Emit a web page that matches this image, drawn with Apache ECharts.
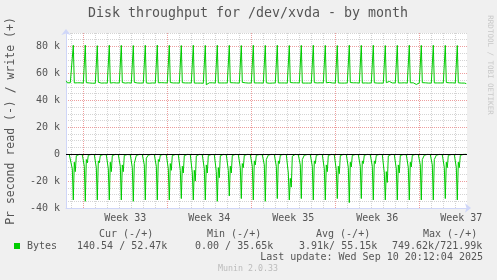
<!DOCTYPE html>
<html>
<head>
<meta charset="utf-8">
<script src="https://cdn.jsdelivr.net/npm/echarts@6/dist/echarts.min.js"></script>
<style>
html, body { margin: 0; padding: 0; background: #f0f0f0; }
#chart { width: 497px; height: 280px; }
</style>
</head>
<body>
<div id="chart"></div>
<script>
// time axis in hours, 0 = first midnight shown, one sample every 2h
const startHour = -10
const stepHours = 2

// write bytes/s (k), one line per day
const writeK = [
  54.5, 53.0, 52.4, 52.8, 53.0,
  53.0, 52.8, 80.9, 52.9, 52.7, 52.9, 53.0, 52.6, 52.8, 53.0, 52.9, 52.7,
  52.8, 52.9, 81.0, 53.1, 52.8, 52.6, 52.9, 53.0, 52.8, 52.7, 52.9, 52.8,
  52.7, 53.0, 80.6, 53.4, 52.9, 53.6, 52.8, 53.3, 52.7, 52.9, 53.0, 52.6,
  52.8, 52.9, 80.9, 52.8, 52.6, 52.9, 53.1, 52.8, 52.7, 52.9, 52.8, 52.6,
  52.9, 53.0, 80.8, 53.2, 52.7, 52.9, 52.8, 52.6, 52.9, 53.0, 52.8, 52.7,
  52.8, 52.9, 80.7, 53.3, 53.1, 52.8, 52.9, 53.0, 52.4, 52.8, 52.9, 52.7,
  52.9, 52.8, 80.9, 52.9, 52.8, 53.0, 52.7, 52.9, 52.8, 52.9, 53.0, 52.8,
  52.8, 53.0, 81.0, 53.0, 52.9, 52.8, 53.1, 52.9, 52.8, 53.0, 52.9, 52.8,
  52.9, 52.8, 80.8, 53.2, 54.1, 53.4, 52.9, 53.0, 52.8, 52.9, 53.0, 52.8,
  52.8, 52.9, 80.7, 53.1, 52.9, 52.8, 52.9, 53.0, 52.8, 52.9, 52.8, 52.7,
  52.9, 53.0, 80.9, 52.8, 52.9, 53.0, 52.8, 52.9, 53.0, 52.8, 52.9, 52.8,
  52.7, 52.9, 80.8, 51.6, 52.8, 52.9, 53.0, 52.8, 52.9, 53.0, 52.8, 52.9,
  52.8, 53.0, 80.9, 52.9, 52.8, 53.0, 52.9, 52.8, 53.0, 52.9, 52.8, 52.7,
  52.9, 52.8, 80.8, 53.1, 52.9, 52.8, 53.0, 52.9, 52.8, 52.9, 53.0, 52.8,
  52.8, 52.9, 80.7, 53.3, 52.8, 52.9, 53.0, 53.2, 52.9, 52.8, 52.9, 52.7,
  52.9, 53.0, 80.9, 52.9, 53.0, 52.8, 52.9, 53.0, 52.8, 52.9, 53.0, 52.8,
  52.8, 52.9, 80.8, 53.0, 52.8, 52.9, 52.7, 52.9, 53.0, 52.8, 52.9, 52.8,
  52.9, 52.8, 80.9, 52.9, 53.0, 52.8, 52.9, 52.8, 53.0, 52.9, 52.8, 52.9,
  52.8, 53.0, 80.7, 53.2, 52.9, 52.8, 53.0, 52.9, 52.8, 53.0, 52.9, 52.7,
  52.9, 52.8, 80.8, 52.8, 52.9, 53.0, 52.8, 52.9, 53.0, 52.8, 52.9, 52.8,
  52.8, 52.9, 80.9, 53.1, 52.8, 53.0, 52.9, 52.8, 52.9, 53.0, 52.8, 52.9,
  52.9, 53.0, 80.8, 53.0, 52.9, 52.8, 53.3, 52.9, 52.8, 52.9, 53.0, 52.8,
  52.8, 52.9, 80.7, 52.9, 53.0, 52.9, 52.8, 53.0, 52.9, 52.8, 52.9, 52.8,
  52.9, 52.8, 80.9, 53.2, 52.8, 52.9, 53.0, 52.8, 52.9, 53.0, 52.8, 52.7,
  52.8, 53.0, 80.8, 52.8, 52.9, 53.0, 52.9, 52.8, 52.9, 52.8, 53.0, 52.9,
  52.9, 52.8, 80.9, 53.0, 52.8, 52.9, 52.8, 53.0, 52.9, 52.8, 52.9, 52.8,
  52.8, 52.9, 80.7, 53.1, 52.9, 52.8, 54.0, 53.0, 52.8, 52.9, 53.0, 52.8,
  52.9, 53.0, 80.8, 52.9, 52.8, 53.0, 52.9, 52.8, 52.9, 53.0, 52.8, 52.9,
  52.8, 52.9, 80.9, 53.0, 52.9, 52.8, 53.0, 52.9, 54.2, 51.8, 52.9, 52.8,
  52.9, 52.8, 80.8, 53.1, 52.8, 52.9, 53.0, 52.8, 52.9, 52.8, 53.0, 52.9,
  52.8, 53.0, 80.9, 52.9, 53.0, 52.8, 52.9, 53.0, 52.8, 52.9, 52.8, 52.7,
  52.9, 52.8, 80.8, 53.2, 52.9, 52.8, 53.0, 52.9, 52.8, 53.0, 52.9, 52.8,
  52.8, 52.9, 80.7, 53.0, 52.8, 52.9, 52.8, 53.0, 52.9, 52.8, 52.9, 52.4
]

// read bytes/s (k), drawn below zero
const readK = [
  0.2, 0.1, 0.2, 0.3, 0.5,
  0.8, 11, 34, 6, 13, 1.2, 0.4, 0.3, 0.2, 0.3, 0.2, 0.4,
  0.6, 9, 35, 4, 6.5, 0.8, 0.3, 0.2, 0.2, 0.3, 0.2, 0.3,
  0.7, 10, 34, 5, 6.5, 1.0, 0.3, 0.2, 0.3, 0.2, 0.3, 0.4,
  0.8, 11, 34, 6, 13, 1.1, 0.4, 0.3, 0.2, 0.2, 0.3, 0.3,
  0.7, 9, 34, 8, 13, 0.9, 0.3, 0.2, 0.3, 0.2, 0.2, 0.4,
  0.6, 10, 35, 7, 8, 1.0, 0.4, 0.2, 0.2, 0.3, 0.2, 0.3,
  0.5, 8, 34, 3, 3, 0.7, 0.3, 0.2, 0.2, 0.2, 0.3, 0.3,
  0.7, 9, 34, 4, 5.5, 0.8, 0.3, 0.3, 0.2, 0.2, 0.2, 0.4,
  0.8, 11, 34, 7, 12, 1.0, 0.3, 0.2, 0.3, 0.2, 0.3, 0.3,
  0.7, 12, 33, 9, 14, 1.1, 0.4, 0.2, 0.2, 0.3, 0.2, 0.3,
  0.9, 14, 34, 12, 20, 1.3, 0.4, 0.3, 0.2, 0.2, 0.3, 0.4,
  0.8, 11, 34, 8, 14, 1.0, 0.3, 0.2, 0.3, 0.2, 0.2, 0.3,
  0.9, 13, 35, 10, 17.5, 1.2, 0.4, 0.3, 0.2, 0.3, 0.2, 0.4,
  0.8, 12, 31, 9, 14, 1.0, 0.3, 0.2, 0.2, 0.2, 0.3, 0.3,
  0.7, 10, 33, 7, 10, 0.9, 0.3, 0.3, 0.2, 0.2, 0.2, 0.3,
  0.6, 9, 34, 5, 8, 0.8, 0.3, 0.2, 0.3, 0.2, 0.3, 0.4,
  0.6, 8, 35, 4, 5, 0.7, 0.3, 0.2, 0.2, 0.3, 0.2, 0.3,
  0.7, 9, 33, 5, 7, 0.8, 0.3, 0.2, 0.2, 0.2, 0.3, 0.3,
  0.9, 14, 34, 18, 24.5, 1.5, 0.4, 0.3, 0.2, 0.3, 0.2, 0.4,
  0.6, 8, 33, 4, 4.5, 0.8, 0.3, 0.2, 0.3, 0.2, 0.2, 0.3,
  0.7, 9, 34, 5, 7, 0.9, 0.3, 0.2, 0.2, 0.2, 0.3, 0.3,
  0.8, 11, 34, 8, 13, 1.0, 0.4, 0.3, 0.2, 0.2, 0.2, 0.4,
  0.8, 12, 33, 9, 14.5, 1.1, 0.3, 0.2, 0.2, 0.3, 0.2, 0.3,
  0.7, 10, 36, 6, 9.5, 0.9, 0.3, 0.2, 0.3, 0.2, 0.3, 0.3,
  0.6, 9, 33, 5, 7, 0.8, 0.3, 0.2, 0.2, 0.2, 0.2, 0.4,
  0.7, 9, 34, 5, 7, 0.9, 0.3, 0.3, 0.2, 0.2, 0.3, 0.3,
  0.9, 14, 34, 13, 21, 1.3, 0.4, 0.2, 0.2, 0.3, 0.2, 0.3,
  0.8, 11, 34, 8, 14, 1.0, 0.3, 0.2, 0.3, 0.2, 0.2, 0.4,
  0.7, 10, 34, 6, 9.5, 0.9, 0.3, 0.2, 0.2, 0.2, 0.3, 0.3,
  0.6, 8, 34, 4, 4.5, 0.8, 0.3, 0.2, 0.2, 0.3, 0.2, 0.3,
  0.6, 8, 34, 4, 4.5, 0.8, 0.3, 0.3, 0.2, 0.2, 0.2, 0.4,
  0.7, 10, 33, 6, 10, 0.9, 0.3, 0.2, 0.3, 0.2, 0.3, 0.3,
  0.7, 10, 34, 6, 10, 0.9, 0.3, 0.2, 0.2, 0.2, 0.3, 0.1
]

const weekStarts = [24, 192, 360, 528, 696]
const weekMids = [108, 276, 444, 612, 780]
const weekLabels = ['Week 33', 'Week 34', 'Week 35', 'Week 36', 'Week 37']
const majorY = [-40000, -20000, 0, 20000, 40000, 60000, 80000]

const legendHeaders = ['Cur (-/+)', 'Min (-/+)', 'Avg (-/+)', 'Max (-/+)']
const legendValues = ['140.54 / 52.47k', '0.00 / 35.65k', '3.91k/ 55.15k', '749.62k/721.99k']
const lastUpdate = 'Last update: Wed Sep 10 20:12:04 2025'

const xMin = -10.6
const xMax = 791.4
const yMin = -40000
const yMax = 90000

const MONO = 'DejaVu Sans Mono'
const FONT_COLOR = '#555'
const AXIS_COLOR = '#CFD6F8'
const GRID_COLOR = 'rgba(143,143,143,0.38)'
const MGRID_COLOR = 'rgba(222,79,79,0.55)'

// daily grid at every midnight that is not a week start
const dayLines = []
for (let h = 0; h <= xMax; h += 24) {
  if (weekStarts.indexOf(h) < 0) dayLines.push(h)
}
const minorY = []
for (let v = -35000; v <= yMax; v += 5000) {
  if (majorY.indexOf(v) < 0) minorY.push(v)
}

const writeData = writeK.map((v, i) => [startHour + i * stepHours, v * 1000])
const readData = readK.map((v, i) => [startHour + i * stepHours, -v * 1000])

const chart = echarts.init(document.getElementById('chart'), null, { renderer: 'canvas' })

const dotted = (color) => ({ show: true, lineStyle: { color: color, width: 1, type: [1, 1] } })

chart.setOption({
  backgroundColor: '#f0f0f0',
  animation: false,
  textStyle: { fontFamily: MONO },
  grid: {
    left: 66, top: 33, width: 401, height: 175,
    show: true, backgroundColor: '#ffffff', borderWidth: 0
  },
  xAxis: [
    {
      type: 'value', min: xMin, max: xMax,
      axisLine: {
        show: true, onZero: false,
        symbol: ['none', 'arrow'], symbolSize: [7, 6], symbolOffset: [0, 4],
        lineStyle: { color: AXIS_COLOR, width: 1 }
      },
      axisTick: { show: false, customValues: dayLines },
      axisLabel: {
        customValues: weekMids, margin: 5,
        color: FONT_COLOR, fontFamily: MONO, fontSize: 10,
        formatter: (v) => weekLabels[weekMids.indexOf(v)]
      },
      splitLine: dotted(GRID_COLOR)
    },
    {
      type: 'value', min: xMin, max: xMax,
      axisLine: { show: false },
      axisTick: { show: false, customValues: weekStarts },
      axisLabel: { show: false },
      splitLine: dotted(MGRID_COLOR)
    }
  ],
  yAxis: [
    {
      type: 'value', min: yMin, max: yMax, position: 'left',
      axisLine: {
        show: true, onZero: false,
        symbol: ['none', 'arrow'], symbolSize: [7, 6], symbolOffset: [0, 4],
        lineStyle: { color: AXIS_COLOR, width: 1 }
      },
      axisTick: { show: false, customValues: minorY },
      axisLabel: { show: false },
      splitLine: dotted(GRID_COLOR)
    },
    {
      type: 'value', min: yMin, max: yMax, position: 'left', offset: 0,
      axisLine: { show: false },
      axisTick: { show: false, customValues: majorY },
      axisLabel: {
        customValues: majorY,
        margin: 6, color: FONT_COLOR, fontFamily: MONO, fontSize: 10,
        formatter: (v) => (v === 0 ? '0' : (v / 1000) + ' k')
      },
      splitLine: dotted(MGRID_COLOR)
    }
  ],
  series: [
    {
      name: 'write', type: 'line', data: writeData,
      xAxisIndex: 0, yAxisIndex: 0,
      showSymbol: false, silent: true,
      lineStyle: { color: '#00cc00', width: 1 }
    },
    {
      name: 'read', type: 'line', data: readData,
      xAxisIndex: 0, yAxisIndex: 0,
      showSymbol: false, silent: true,
      lineStyle: { color: '#00cc00', width: 1 },
      markLine: {
        silent: true, symbol: 'none', label: { show: false },
        lineStyle: { color: '#000', width: 1, type: 'solid' },
        data: [{ yAxis: 0 }]
      }
    }
  ],
  graphic: [
    {
      type: 'text', x: 248, y: 13.5,
      style: {
        text: 'Disk throughput for /dev/xvda - by month',
        font: '13.3px ' + MONO, fill: FONT_COLOR,
        align: 'center', verticalAlign: 'middle', textAlign: 'center', textVerticalAlign: 'middle'
      }
    },
    {
      type: 'text', x: 11, y: 121, rotation: Math.PI / 2,
      style: {
        text: 'Pr second read (-) / write (+)',
        font: '11.5px ' + MONO, fill: FONT_COLOR,
        align: 'center', verticalAlign: 'middle', textAlign: 'center', textVerticalAlign: 'middle'
      }
    },
    {
      type: 'text', x: 490, y: 65, rotation: -Math.PI / 2,
      style: {
        text: 'RRDTOOL / TOBI OETIKER',
        font: '7.5px ' + MONO, fill: '#c8c8c8',
        align: 'center', verticalAlign: 'middle', textAlign: 'center', textVerticalAlign: 'middle'
      }
    },
    ...legendHeaders.map((t, i) => ({
      type: 'text', x: [99, 207, 316, 423][i], y: 234,
      style: { text: t, font: '10px ' + MONO, fill: FONT_COLOR, verticalAlign: 'middle', textVerticalAlign: 'middle' }
    })),
    {
      type: 'rect', shape: { x: 14, y: 243, width: 6, height: 6 },
      style: { fill: '#00cc00' }
    },
    {
      type: 'text', x: 27, y: 246,
      style: { text: 'Bytes', font: '10px ' + MONO, fill: FONT_COLOR, verticalAlign: 'middle', textVerticalAlign: 'middle' }
    },
    ...legendValues.map((t, i) => ({
      type: 'text', x: [77, 195, 299, 392][i], y: 246,
      style: { text: t, font: '10px ' + MONO, fill: FONT_COLOR, verticalAlign: 'middle', textVerticalAlign: 'middle' }
    })),
    {
      type: 'text', x: 483, y: 257,
      style: {
        text: lastUpdate, font: '10px ' + MONO, fill: FONT_COLOR,
        align: 'right', verticalAlign: 'middle', textAlign: 'right', textVerticalAlign: 'middle'
      }
    },
    {
      type: 'text', x: 248, y: 269,
      style: {
        text: 'Munin 2.0.33', font: '8.3px ' + MONO, fill: '#bbbbbb',
        align: 'center', verticalAlign: 'middle', textAlign: 'center', textVerticalAlign: 'middle'
      }
    }
  ]
})
</script>
</body>
</html>
